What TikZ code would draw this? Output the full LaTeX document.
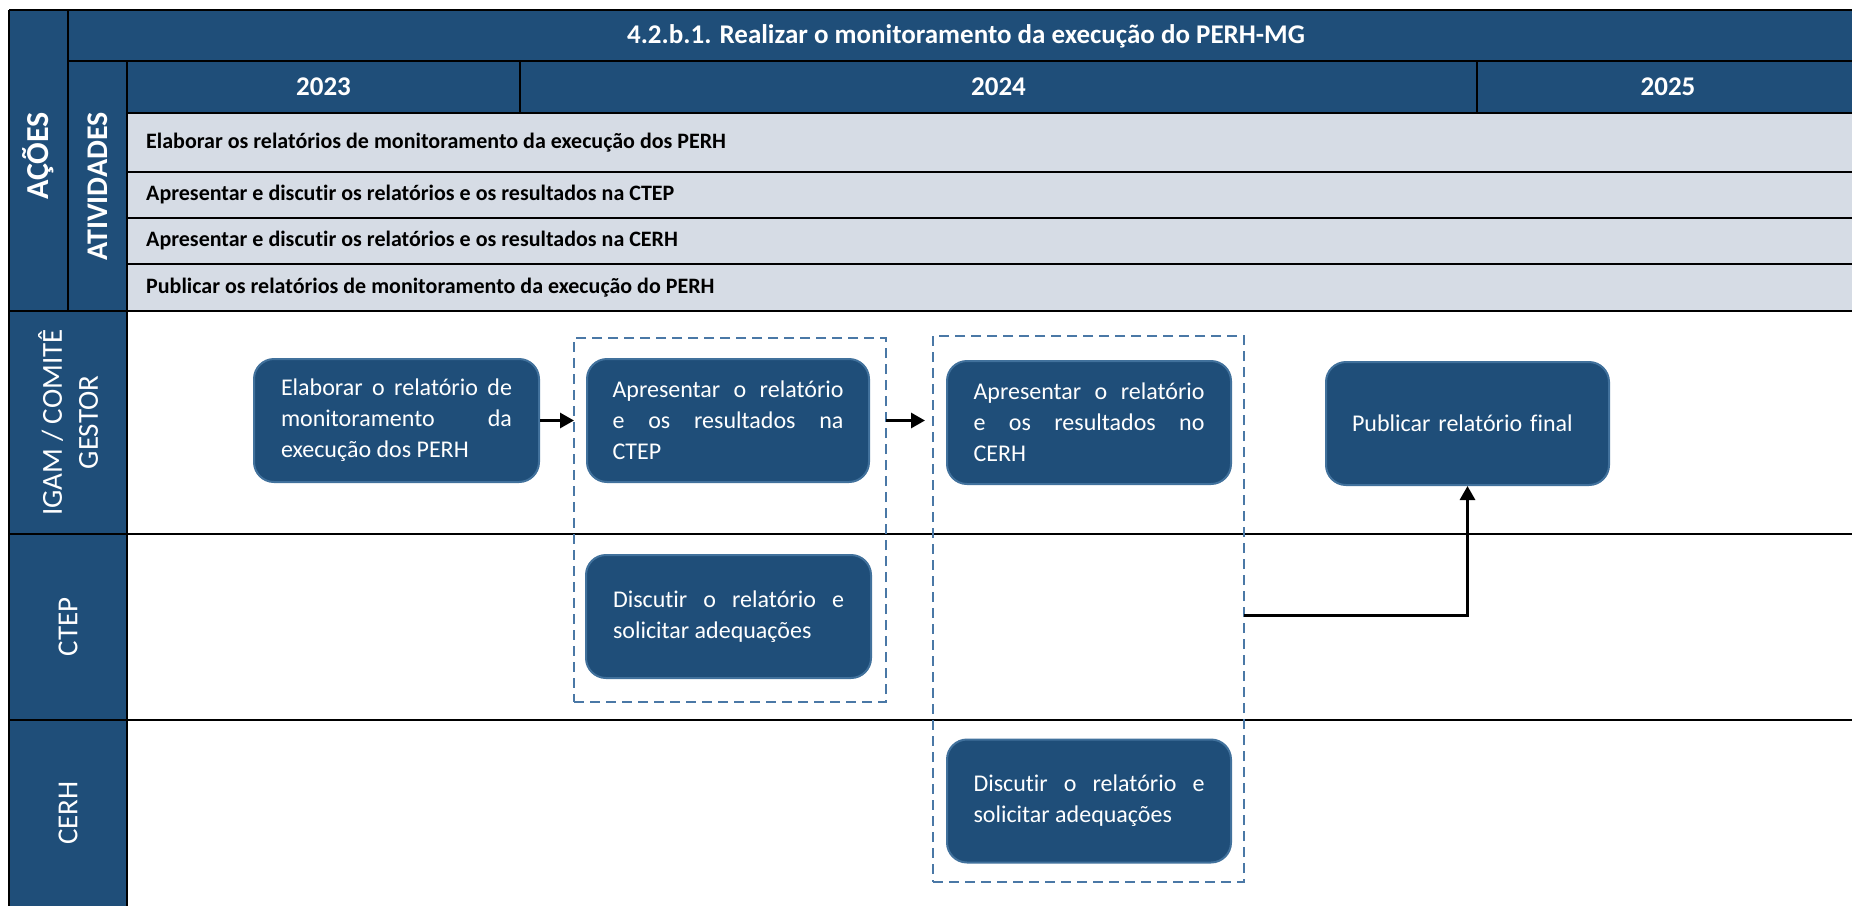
\documentclass[tikz,border=0pt]{standalone}
\usepackage{fontspec}
\setmainfont{Carlito}[RawFeature={-liga}]
\usetikzlibrary{arrows.meta,calc}
\definecolor{dblue}{HTML}{1F4E79}
\definecolor{lgray}{HTML}{D6DCE5}
\definecolor{bordcol}{HTML}{41719C}
\definecolor{dashcol}{HTML}{4A78A6}
\tikzset{
  gridline/.style={line width=2.5pt, black},
  hdrtext/.style={text=white, font=\fontsize{27}{31}\selectfont\bfseries, inner sep=0pt},
  acttext/.style={text=black, font=\fontsize{22}{26}\selectfont\bfseries, anchor=west, inner sep=0pt},
  sidetext/.style={text=white, font=\fontsize{31}{35}\selectfont\bfseries, rotate=90, inner sep=0pt},
  lanetext/.style={text=white, font=\fontsize{29}{36}\selectfont, rotate=90, inner sep=0pt, align=center},
  procbox/.style={rounded corners=20pt, fill=dblue, draw=bordcol, line width=2pt, text=white,
    font=\fontsize{24}{31}\selectfont, minimum width=285pt, minimum height=123pt,
    text width=231pt, inner sep=0pt, align=justify},
  groupbox/.style={draw=dashcol, line width=2.5pt, dash pattern=on 10pt off 6pt, inner sep=0pt, outer sep=0pt},
  arr/.style={line width=3pt, black, -{Triangle[length=14pt,width=15pt]}}
}
\begin{document}
\begin{tikzpicture}[x=1pt,y=-1pt]
\useasboundingbox (0,0) rectangle (1852,906);
\fill[white] (0,0) rectangle (1852,906);
% backgrounds
\fill[dblue] (9,10) rectangle (1852,61);
\fill[dblue] (9,10) rectangle (127,906);
\fill[dblue] (127,61) rectangle (1852,113);
\fill[lgray] (127,113) rectangle (1852,311);
% grid lines
\draw[gridline] (9,10) -- (1852,10);
\draw[gridline] (9,10) -- (9,906);
\draw[gridline] (68,61) -- (1852,61);
\draw[gridline] (68,10) -- (68,311);
\draw[gridline] (127,61) -- (127,906);
\draw[gridline] (127,113) -- (1852,113);
\draw[gridline] (520,61) -- (520,113);
\draw[gridline] (1477,61) -- (1477,113);
\draw[gridline] (127,172) -- (1852,172);
\draw[gridline] (127,218) -- (1852,218);
\draw[gridline] (127,264) -- (1852,264);
\draw[gridline] (9,311) -- (1852,311);
\draw[gridline] (9,534) -- (1852,534);
\draw[gridline] (9,720) -- (1852,720);
% header texts
\node[hdrtext] (ttl) at (966,36) {4.2.b.1. Realizar o monitoramento da execução do PERH-MG};
\node[hdrtext] (y23) at (323.5,87) {2023};
\node[hdrtext] (y24) at (998.5,87) {2024};
\node[hdrtext] (y25) at (1668,87) {2025};
\node[sidetext, font=\fontsize{32}{36}\selectfont\bfseries] (acoes) at (38.5,156) {AÇÕES};
\node[sidetext, font=\fontsize{30}{34}\selectfont\bfseries] (ativ) at (97.5,186.5) {ATIVIDADES};
\node[acttext] (a1) at (146,142.5) {Elaborar os relatórios de monitoramento da execução dos PERH};
\node[acttext] (a2) at (146,195) {Apresentar e discutir os relatórios e os resultados na CTEP};
\node[acttext] (a3) at (146,241) {Apresentar e discutir os relatórios e os resultados na CERH};
\node[acttext] (a4) at (146,287.5) {Publicar os relatórios de monitoramento da execução do PERH};
% lane labels
\node[lanetext] (l1) at (68,422.5) {IGAM / COMITÊ\\GESTOR};
\node[lanetext] (l2) at (68,627) {CTEP};
\node[lanetext] (l3) at (68,813) {CERH};
% group boxes
\node[groupbox, minimum width=312pt, minimum height=364pt] (dbox1) at (730,520) {};
\node[groupbox, minimum width=311pt, minimum height=546pt] (dbox2) at (1088.5,609) {};
% process boxes
\node[procbox] (elab) at (396.5,420.5) {Elaborar o relatório de\linebreak monitoramento da\linebreak execução dos PERH};
\node[procbox, minimum width=282pt] (apctep) at (728,420.5) {Apresentar o relatório\linebreak e os resultados na\linebreak CTEP};
\node[procbox, minimum width=284pt] (apcerh) at (1089,422.5) {Apresentar o relatório\linebreak e os resultados no\linebreak CERH};
\node[procbox] (dictep) at (728.5,616.5) {Discutir o relatório e\linebreak solicitar adequações};
\node[procbox, minimum width=284pt] (dicerh) at (1089,801) {Discutir o relatório e\linebreak solicitar adequações};
\node[procbox, minimum width=283pt, align=left] (pub) at (1467.5,423.5) {Publicar relatório final};
% connectors
\draw[arr] (elab.east) -- (elab.east -| dbox1.west);
\draw[arr, shorten >=8pt] (dbox1.east |- elab.east) -- (dbox2.west |- elab.east);
\draw[arr] ([yshift=-6pt]dbox2.east) -| (pub.south);
\end{tikzpicture}
\end{document}
